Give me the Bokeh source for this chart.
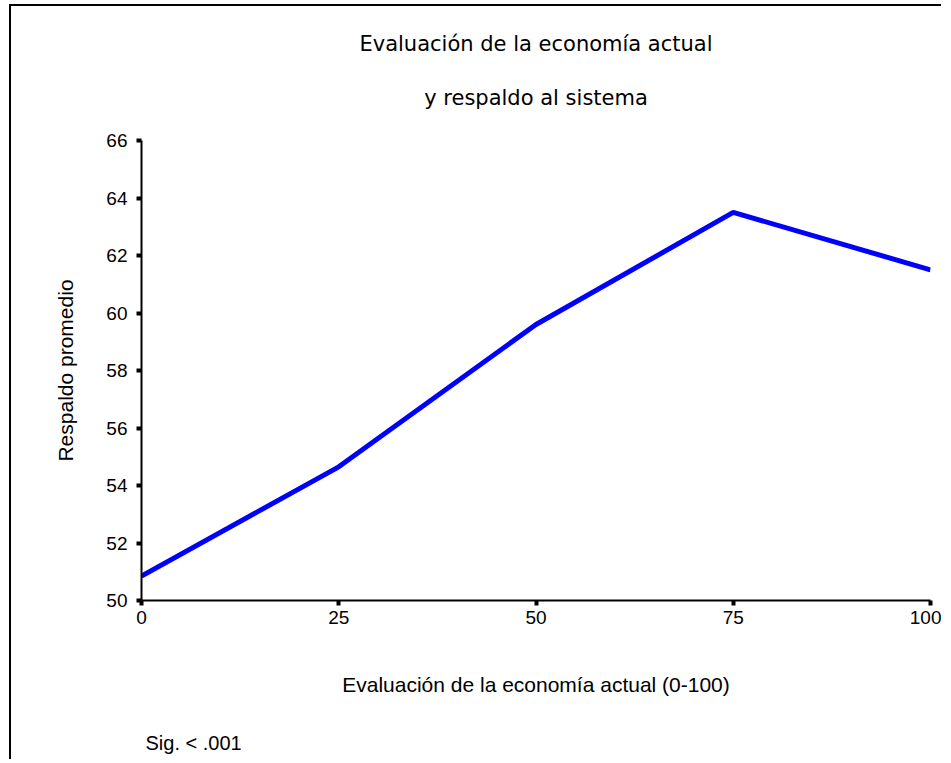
from bokeh.plotting import figure
from bokeh.models import Range1d, FixedTicker, Title, Label
from bokeh.embed import file_html
from bokeh.resources import INLINE

# Data
x_vals = [0, 25, 50, 75, 100]
y_vals = [50.85, 54.65, 59.6, 63.5, 61.5]
x_ticks = [0, 25, 50, 75, 100]
y_ticks = [50, 52, 54, 56, 58, 60, 62, 64, 66]

title_line1 = "Evaluación de la economía actual"
title_line2 = "y respaldo al sistema"
x_label = "Evaluación de la economía actual (0-100)"
y_label = "Respaldo promedio"
note = "Sig. < .001"

FONT = "Liberation Sans"

p = figure(width=932, height=755, output_backend="svg", toolbar_location=None,
           x_range=Range1d(0, 100), y_range=Range1d(50, 66),
           min_border_left=130, min_border_top=134, min_border_right=13,
           min_border_bottom=161)
p.styles = {"margin-left": "9px", "margin-top": "4px",
            "border-left": "2px solid black", "border-top": "2px solid black"}
p.outline_line_color = None
p.background_fill_color = "white"
p.border_fill_color = "white"
p.xgrid.visible = False
p.ygrid.visible = False

p.line(x_vals, y_vals, line_color="#0000FF", line_width=5)

for ax in (p.xaxis[0], p.yaxis[0]):
    ax.axis_line_width = 2
    ax.axis_line_color = "black"
    ax.major_tick_out = 5
    ax.major_tick_in = 0
    ax.major_tick_line_width = 4
    ax.major_tick_line_color = "black"
    ax.minor_tick_line_color = None
    ax.major_label_text_font = FONT
    ax.major_label_text_font_size = "19px"
    ax.major_label_text_color = "black"
    ax.axis_label_text_font = FONT
    ax.axis_label_text_font_size = "21px"
    ax.axis_label_text_font_style = "normal"
    ax.axis_label_text_color = "black"

p.xaxis[0].ticker = FixedTicker(ticks=x_ticks)
p.yaxis[0].ticker = FixedTicker(ticks=y_ticks)
p.xaxis[0].axis_label = x_label
p.yaxis[0].axis_label = y_label
p.xaxis[0].major_label_standoff = 5
p.yaxis[0].major_label_standoff = 9
p.xaxis[0].axis_label_standoff = 46
p.yaxis[0].axis_label_standoff = 26

# titles (added nearest-first)
p.add_layout(Title(text=title_line2, align="center", text_font="DejaVu Sans",
                   text_font_size="21px", text_font_style="normal",
                   text_color="black", standoff=59, vertical_align="middle"), "above")
p.add_layout(Title(text=title_line1, align="center", text_font="DejaVu Sans",
                   text_font_size="21px", text_font_style="normal",
                   text_color="black", standoff=0, vertical_align="bottom"), "above")

p.add_layout(Label(x=4, y=-22, x_units="screen", y_units="screen", text=note,
                   text_align="left", text_baseline="alphabetic", text_font=FONT,
                   text_font_size="20px", text_color="black"), "below")

open("out.html", "w").write(file_html(p, INLINE))
